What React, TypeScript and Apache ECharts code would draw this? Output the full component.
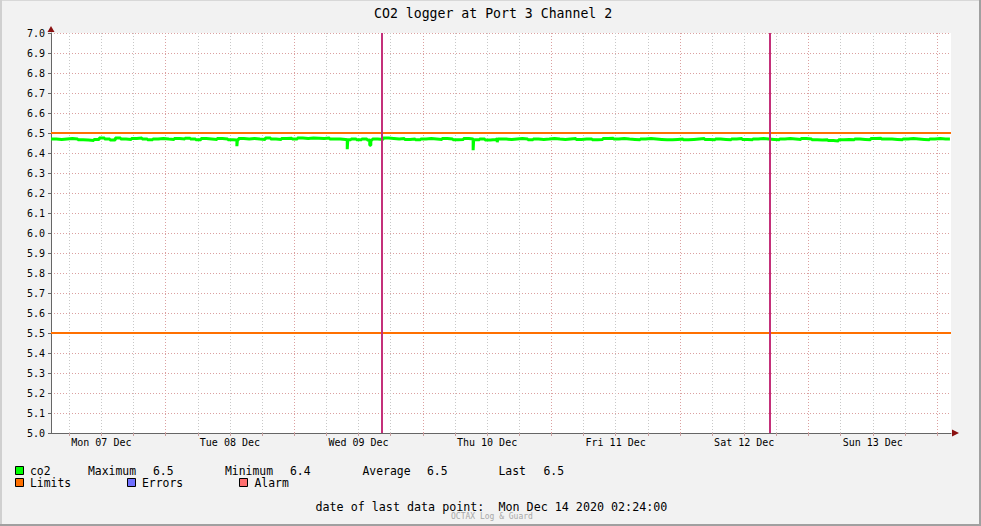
import React, { useEffect, useRef } from "react";
import * as echarts from "echarts";

// ---- data (hours since Mon 07 Dec 2020 00:00) ----
const START_HOUR = 2.6; // left edge of the graph
const END_HOUR = 170.6; // right edge of the graph
const LAST_POINT_HOUR = 170.4; // Mon Dec 14 2020 02:24:00

const co2Hourly = [
  6.470, 6.468, 6.470, 6.472, 6.470, 6.466, 6.465, 6.463, 6.468, 6.475, 6.470, 6.465,
  6.475, 6.470, 6.468, 6.472, 6.475, 6.470, 6.466, 6.470, 6.473, 6.470, 6.468, 6.472,
  6.470, 6.474, 6.470, 6.466, 6.472, 6.470, 6.468, 6.473, 6.470, 6.466, 6.465, 6.472,
  6.470, 6.473, 6.470, 6.468, 6.475, 6.470, 6.468, 6.472, 6.474, 6.470, 6.475, 6.473,
  6.475, 6.474, 6.472, 6.475, 6.470, 6.470, 6.468, 6.466, 6.470, 6.466, 6.470, 6.465,
  6.470, 6.468, 6.475, 6.473, 6.470, 6.472, 6.468, 6.470, 6.466, 6.470, 6.472, 6.470,
  6.468, 6.472, 6.470, 6.466, 6.468, 6.472, 6.470, 6.466, 6.470, 6.465, 6.468, 6.470,
  6.470, 6.467, 6.470, 6.472, 6.470, 6.466, 6.470, 6.468, 6.470, 6.473, 6.470, 6.468,
  6.470, 6.472, 6.468, 6.470, 6.470, 6.466, 6.468, 6.472, 6.474, 6.470, 6.473, 6.470,
  6.468, 6.466, 6.470, 6.472, 6.470, 6.468, 6.466, 6.466, 6.468, 6.470, 6.466, 6.468,
  6.470, 6.472, 6.468, 6.466, 6.470, 6.468, 6.466, 6.470, 6.472, 6.468, 6.466, 6.470,
  6.472, 6.470, 6.468, 6.466, 6.470, 6.472, 6.470, 6.468, 6.472, 6.470, 6.466, 6.465,
  6.466, 6.462, 6.460, 6.466, 6.468, 6.466, 6.470, 6.468, 6.466, 6.472, 6.474, 6.470,
  6.470, 6.468, 6.466, 6.470, 6.472, 6.470, 6.468, 6.466, 6.470, 6.472, 6.470, 6.470,
];

const dipHours = [37.3, 57.9, 62.1, 81.4, 85.9];
const dipValues = [6.434, 6.419, 6.439, 6.414, 6.454];
const dipDurations = [0.1, 0.1, 0.2, 0.1, 0.1];

const eventHours = [64.4, 136.8];
const limitValues = [6.5, 5.5];

const dayLabels = [
  "Mon 07 Dec", "Tue 08 Dec", "Wed 09 Dec", "Thu 10 Dec",
  "Fri 11 Dec", "Sat 12 Dec", "Sun 13 Dec",
];

const yTickValues = { min: 5.0, max: 7.0, step: 0.1 };
const lastDataPointText = "Mon Dec 14 2020 02:24:00";
const chartTitle = "CO2 logger at Port 3 Channel 2";

// ---- layout ----
const W = 981;
const H = 526;
const GRID = { left: 51, top: 33, width: 900, height: 400 };
const MONO = '"DejaVu Sans Mono", "Liberation Mono", monospace';

function buildSeries(): [number, number][] {
  const pts: [number, number][] = co2Hourly.map((v, i) => [START_HOUR + i, v]);
  pts.push([LAST_POINT_HOUR, co2Hourly[co2Hourly.length - 1]]);
  const baseAt = (t: number) => {
    const idx = Math.max(0, Math.min(co2Hourly.length - 1, Math.floor(t - START_HOUR)));
    return co2Hourly[idx];
  };
  dipHours.forEach((t, k) => {
    pts.push([t, dipValues[k]]);
    pts.push([t + dipDurations[k], baseAt(t + dipDurations[k])]);
  });
  pts.sort((a, b) => a[0] - b[0]);
  return pts;
}

export default function App() {
  const ref = useRef<HTMLDivElement>(null);

  useEffect(() => {
    if (!ref.current) return;
    const chart = echarts.init(ref.current, null, { renderer: "svg" });
    const data = buildSeries();
    const allVals = data.map((d) => d[1]);
    const maxV = Math.max(...allVals);
    const minV = Math.min(...allVals);
    const avgV = co2Hourly.reduce((a, b) => a + b, 0) / co2Hourly.length;
    const lastV = co2Hourly[co2Hourly.length - 1];

    const sixHours: number[] = [];
    for (let h = 6; h < END_HOUR; h += 6) if (h > START_HOUR) sixHours.push(h);
    const noons = dayLabels.map((_, i) => 12 + 24 * i);

    const gridLineData = sixHours.map((h) => ({
      xAxis: h,
      lineStyle: {
        color: h % 24 === 0 ? "#dba0a0" : "#c8c8c8",
        type: [1, 2] as any,
        width: 1,
      },
    }));

    const legendFont = `11.4px ${MONO}`;
    const txt = (text: string, x: number, y: number, extra: any = {}) => ({
      type: "text",
      x,
      y,
      silent: true,
      style: {
        text,
        font: legendFont,
        fill: "#000",
        lineHeight: 11,
        textAlign: "left",
        textVerticalAlign: "middle",
        ...extra,
      },
    });
    const square = (x: number, y: number, color: string) => ({
      type: "rect",
      shape: { x: x + 0.5, y: y + 0.5, width: 8, height: 8 },
      style: { fill: color, stroke: "#000", lineWidth: 1 },
      silent: true,
    });

    const gx0 = GRID.left;
    const gx1 = GRID.left + GRID.width;
    const gy0 = GRID.top;
    const gy1 = GRID.top + GRID.height;
    const arrowColor = "#8a1010";
    const row1 = 470.5;
    const row2 = 483.2;

    chart.setOption({
      animation: false,
      backgroundColor: "#f2f2f2",
      title: {
        text: chartTitle,
        left: 374,
        top: 7,
        padding: 0,
        textStyle: { fontFamily: MONO, fontSize: 13.2, fontWeight: "normal", color: "#000" },
      },
      grid: {
        ...GRID,
        show: true,
        backgroundColor: "#ffffff",
        borderWidth: 0,
        containLabel: false,
      },
      xAxis: {
        type: "value",
        min: START_HOUR,
        max: END_HOUR,
        axisLine: { show: true, lineStyle: { color: "#666", width: 1 } },
        axisTick: {
          show: true,
          length: 3,
          customValues: sixHours,
          lineStyle: { color: "#c8a0a0", width: 1 },
        },
        axisLabel: {
          show: true,
          customValues: noons,
          margin: 4,
          fontFamily: MONO,
          fontSize: 10,
          color: "#000",
          formatter: (v: number) => dayLabels[Math.round((v - 12) / 24)] ?? "",
        },
        splitLine: { show: false },
      },
      yAxis: {
        type: "value",
        min: yTickValues.min,
        max: yTickValues.max,
        interval: yTickValues.step,
        axisLine: { show: true, lineStyle: { color: "#666", width: 1 } },
        axisTick: { show: true, length: 3, lineStyle: { color: "#666" } },
        axisLabel: {
          margin: 6,
          fontFamily: MONO,
          fontSize: 10,
          color: "#000",
          formatter: (v: number) => v.toFixed(1),
        },
        splitLine: { show: true, lineStyle: { color: "#dba0a0", type: [1, 2], width: 1 } },
      },
      series: [
        {
          name: "grid",
          type: "line",
          data: [],
          z: 1,
          silent: true,
          markLine: {
            z: 1,
            silent: true,
            symbol: ["none", "none"],
            label: { show: false },
            data: gridLineData,
          },
        },
        {
          name: "Limits",
          type: "line",
          data: [],
          z: 2,
          silent: true,
          markLine: {
            z: 2,
            silent: true,
            symbol: ["none", "none"],
            label: { show: false },
            lineStyle: { color: "#ff7000", width: 2, type: "solid" },
            data: limitValues.map((v) => ({ yAxis: v })),
          },
        },
        {
          name: "co2",
          type: "line",
          step: "end",
          data,
          z: 3,
          symbol: "none",
          lineStyle: { color: "#00ff00", width: 3 },
          itemStyle: { color: "#00ff00" },
        },
        {
          name: "events",
          type: "line",
          data: [],
          z: 4,
          silent: true,
          markLine: {
            z: 6,
            silent: true,
            symbol: ["none", "none"],
            label: { show: false },
            lineStyle: { color: "#c4307a", width: 2, type: "solid" },
            data: eventHours.map((h) => ({ xAxis: h })),
          },
        },
      ],
      graphic: [
        // frame
        { type: "rect", shape: { x: 0, y: 0, width: W, height: 1 }, style: { fill: "#d8d8d8" }, silent: true },
        { type: "rect", shape: { x: 0, y: 0, width: 2, height: H }, style: { fill: "#d0d0d0" }, silent: true },
        { type: "rect", shape: { x: W - 2, y: 0, width: 2, height: H }, style: { fill: "#a0a0a0" }, silent: true },
        { type: "rect", shape: { x: 0, y: H - 2, width: W, height: 2 }, style: { fill: "#a0a0a0" }, silent: true },
        // axis arrows
        {
          type: "polygon",
          silent: true,
          z: 10,
          shape: { points: [[gx1 + 1, gy1 - 3.5], [gx1 + 8, gy1], [gx1 + 1, gy1 + 3.5]] },
          style: { fill: arrowColor },
        },
        {
          type: "polygon",
          silent: true,
          z: 10,
          shape: { points: [[gx0 - 3.5, gy0 - 1], [gx0, gy0 - 7], [gx0 + 3.5, gy0 - 1]] },
          style: { fill: arrowColor },
        },
        // legend row 1
        square(15, 466, "#00ff00"),
        txt("co2", 30, row1),
        txt("Maximum", 88, row1),
        txt(maxV.toFixed(1), 153, row1),
        txt("Minimum", 225, row1),
        txt(minV.toFixed(1), 290, row1),
        txt("Average", 362.5, row1),
        txt(avgV.toFixed(1), 427, row1),
        txt("Last", 498.5, row1),
        txt(lastV.toFixed(1), 543.5, row1),
        // legend row 2
        square(15, 478, "#ff7000"),
        txt("Limits", 30, row2),
        square(127, 478, "#7070ff"),
        txt("Errors", 142, row2),
        square(239, 478, "#ff7070"),
        txt("Alarm", 254.5, row2),
        // footer
        txt(`date of last data point:  ${lastDataPointText}`, 315.5, 506.5, { font: `11.7px ${MONO}` }),
        txt("OCTAX Log & Guard", 451, 516.5, { font: `8px ${MONO}`, fill: "#a8a8a8", lineHeight: 7 }),
      ],
    });

    return () => chart.dispose();
  }, []);

  return (
    <div
      ref={ref}
      style={{ position: "fixed", left: 0, top: 0, width: W, height: H }}
    />
  );
}
